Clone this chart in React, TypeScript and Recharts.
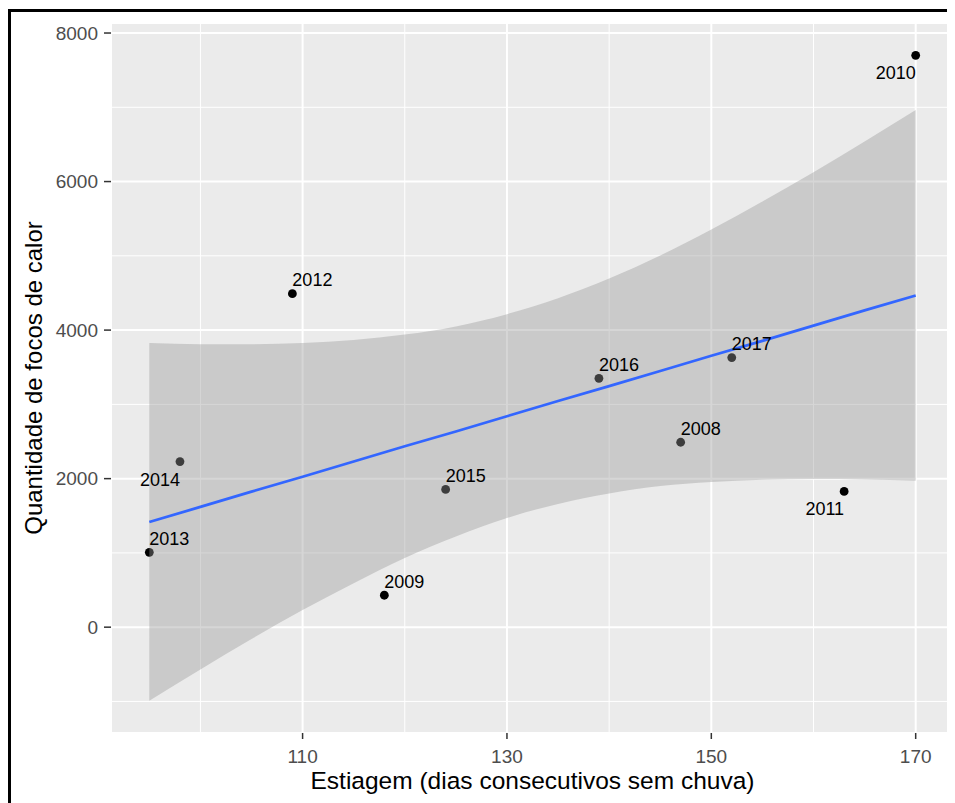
import React from 'react';
import {
  ComposedChart,
  Scatter,
  Area,
  Line,
  XAxis,
  YAxis,
  CartesianGrid,
  Label,
} from 'recharts';

// pontos observados (ano, estiagem, focos)
const years = ['2008', '2009', '2010', '2011', '2012', '2013', '2014', '2015', '2016', '2017'];
const estiagem = [147, 118, 170, 163, 109, 95, 98, 124, 139, 152];
const focos = [2490, 430, 7700, 1828, 4490, 1008, 2230, 1855, 3350, 3630];
const labelBelow = ['2010', '2011', '2014'];

// faixa de confiança e reta
const bandX = [95, 100, 105, 110, 115, 120, 125, 130, 135, 140, 145, 150, 155, 160, 165, 170];
const bandLow = [-990, -570, -160, 230, 590, 930, 1220, 1470, 1660, 1800, 1900, 1955, 1985, 1995, 1990, 1970];
const bandHigh = [3825, 3810, 3810, 3825, 3865, 3940, 4050, 4215, 4430, 4695, 5005, 5355, 5730, 6125, 6540, 6965];
const fitY = [1415, 1620, 1825, 2025, 2230, 2435, 2635, 2840, 3045, 3245, 3450, 3655, 3855, 4060, 4265, 4465];

const xTicks = [110, 130, 150, 170];
const yTicks = [0, 2000, 4000, 6000, 8000];
const xMinor = [100, 120, 140, 160];
const yMinor = [-1000, 1000, 3000, 5000, 7000];

const X_DOMAIN = [91.25, 173.75];
const Y_DOMAIN = [-1425, 8135];

const FONT = '"Liberation Sans", Arial, sans-serif';

const points = years.map((year, i) => ({ year, x: estiagem[i], y: focos[i] }));
const bandData = bandX.map((x, i) => ({ x, band: [bandLow[i], bandHigh[i]], fit: fitY[i] }));

const Dot = (props: any) => <circle cx={props.cx} cy={props.cy} r={4.4} fill="#000" />;

const YearLabel = (props: any) => {
  const below = labelBelow.includes(props.payload.year);
  return (
    <text
      x={props.cx}
      y={below ? props.cy + 24 : props.cy - 7.5}
      textAnchor={below ? 'end' : 'start'}
      fontSize={18}
      fontFamily={FONT}
      fill="#000"
    >
      {props.payload.year}
    </text>
  );
};

const YTitle = (props: any) => {
  const vb = props.viewBox || { x: 0, y: 15, width: 103, height: 710 };
  const cx = vb.x + 25.5;
  const cy = vb.y + vb.height / 2;
  return (
    <text
      x={cx}
      y={cy}
      dy="0.355em"
      transform={`rotate(-90, ${cx}, ${cy})`}
      textAnchor="middle"
      fontSize={24}
      fontFamily={FONT}
      fill="#000"
    >
      Quantidade de focos de calor
    </text>
  );
};

const XTitle = (props: any) => {
  const vb = props.viewBox || { x: 103, y: 725, width: 843, height: 70 };
  return (
    <text
      x={vb.x + vb.width / 2}
      y={vb.y + 56}
      textAnchor="middle"
      fontSize={24.5}
      fontFamily={FONT}
      fill="#000"
    >
      Estiagem (dias consecutivos sem chuva)
    </text>
  );
};

const App: React.FC = () => {
  return (
    <div style={{ position: 'relative', width: 947, height: 795, fontFamily: FONT }}>
      <div
        style={{
          position: 'absolute',
          left: 0,
          top: 1,
          width: 947,
          height: 794,
          borderTop: '3px solid #000',
          borderLeft: '3px solid #000',
          boxSizing: 'border-box',
        }}
      />
      <div style={{ position: 'absolute', left: 0, top: 0 }}>
        <ComposedChart
          width={947}
          height={795}
          data={bandData}
          margin={{ top: 15, right: 1, bottom: 0, left: 0 }}
        >
          <CartesianGrid
            fill="#EBEBEB"
            fillOpacity={1}
            stroke="#FFFFFF"
            strokeWidth={2}
          />
          {/* grade secundária via eixos ocultos */}
          <CartesianGrid
            xAxisId="minor"
            yAxisId="minor"
            stroke="#FFFFFF"
            strokeWidth={1}
          />
          <XAxis
            dataKey="x"
            type="number"
            domain={X_DOMAIN}
            allowDataOverflow
            ticks={xTicks}
            height={70}
            axisLine={false}
            tickSize={6}
            tickMargin={11}
            tickLine={{ stroke: '#333333', strokeWidth: 1.5 }}
            tick={{ fill: '#4D4D4D', fontSize: 19, fontFamily: FONT }}
            label={<Label content={<XTitle />} />}
          />
          <XAxis
            xAxisId="minor"
            dataKey="x"
            type="number"
            domain={X_DOMAIN}
            allowDataOverflow
            ticks={xMinor}
            hide
          />
          <YAxis
            dataKey="y"
            type="number"
            domain={Y_DOMAIN}
            allowDataOverflow
            ticks={yTicks}
            width={103}
            axisLine={false}
            tickSize={7}
            tickMargin={6}
            tickLine={{ stroke: '#333333', strokeWidth: 1.5 }}
            tick={{ fill: '#4D4D4D', fontSize: 19, fontFamily: FONT }}
            label={<Label content={<YTitle />} />}
          />
          <YAxis
            yAxisId="minor"
            dataKey="y"
            type="number"
            domain={Y_DOMAIN}
            allowDataOverflow
            ticks={yMinor}
            hide
          />
          <Scatter data={points} shape={<Dot />} isAnimationActive={false} zIndex={500} />
          {/* faixa por cima dos pontos, como no ggplot */}
          <Area
            dataKey="band"
            type="monotone"
            fill="#999999"
            fillOpacity={0.4}
            stroke="none"
            isAnimationActive={false}
            zIndex={650}
          />
          <Line
            dataKey="fit"
            type="linear"
            stroke="#3366FF"
            strokeWidth={2.7}
            dot={false}
            isAnimationActive={false}
            zIndex={700}
          />
          <Scatter data={points} shape={<YearLabel />} isAnimationActive={false} zIndex={800} />
        </ComposedChart>
      </div>
    </div>
  );
};

export default App;
